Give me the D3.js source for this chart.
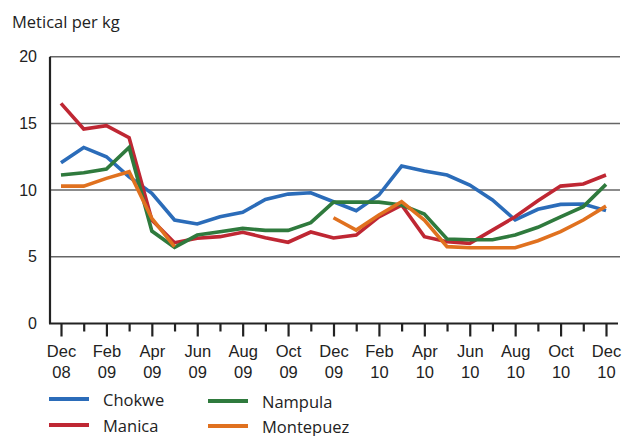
<!DOCTYPE html>
<meta charset="utf-8">
<head>
<style>
body { margin: 0; background: #fff; }
svg { font-family: "Open Sans", sans-serif; }
.grid line { stroke: #666; stroke-width: 1.5; }
.axis path, .axis line { stroke: #222; stroke-width: 2.2; fill: none; }
.axis text { fill: #222; font-size: 16px; }
.line { fill: none; stroke-width: 3.6; stroke-linejoin: miter; }
</style>
</head>
<body>
<div id="chart"></div>
<script src="https://d3js.org/d3.v7.min.js"></script>
<script>

// months Dec 08 .. Dec 10
var months = ["Dec 08","Jan 09","Feb 09","Mar 09","Apr 09","May 09","Jun 09","Jul 09","Aug 09","Sep 09","Oct 09","Nov 09",
              "Dec 09","Jan 10","Feb 10","Mar 10","Apr 10","May 10","Jun 10","Jul 10","Aug 10","Sep 10","Oct 10","Nov 10","Dec 10"];

var chokwe    = [12.05,13.2,12.5,11.0,9.76,7.76,7.46,8.0,8.33,9.3,9.7,9.8,9.13,8.46,9.63,11.8,11.43,11.13,10.38,9.26,7.76,8.56,8.93,8.96,8.46];
var manica    = [16.5,14.58,14.83,13.93,7.76,6.06,6.39,6.51,6.84,6.43,6.09,6.86,6.41,6.63,8.0,8.88,6.51,6.13,6.01,7.0,8.0,9.2,10.3,10.46,11.13];
var nampula   = [11.13,11.3,11.58,13.2,6.93,5.71,6.63,6.88,7.13,6.98,6.98,7.56,9.1,9.1,9.1,8.88,8.2,6.33,6.28,6.28,6.63,7.21,8.0,8.76,10.43];
var montepuez = [10.3,10.3,10.88,11.38,7.88,5.76,null,null,null,null,null,null,7.93,7.0,8.13,9.13,7.76,5.76,5.68,5.68,5.68,6.2,6.88,7.76,8.8];

var seriesNames  = ["Chokwe","Manica","Nampula","Montepuez"];
var seriesColors = ["#2b6cb9","#bf2733","#2f7a3d","#e0711f"];
var yTicks = [0,5,10,15,20];

var series = [chokwe, manica, nampula, montepuez];

var width = 622, height = 436;
var svg = d3.select("#chart").append("svg")
    .attr("width", width)
    .attr("height", height);

var x = d3.scaleLinear().domain([0, months.length - 1]).range([61, 606]);
var y = d3.scaleLinear().domain([0, 20]).range([323.5, 56.7]);

// title
svg.append("text")
  .attr("x", 12).attr("y", 28)
  .style("font-size", "16.5px").style("fill", "#222")
  .text("Metical per kg");

// grid
svg.append("g").attr("class", "grid")
  .selectAll("line")
  .data(yTicks.filter(function(d){ return d > 0; }))
  .enter().append("line")
    .attr("x1", 50).attr("x2", 620)
    .attr("y1", function(d){ return y(d); })
    .attr("y2", function(d){ return y(d); });

// y axis
var yAxis = svg.append("g")
  .attr("class", "axis")
  .attr("transform", "translate(50,0)")
  .call(d3.axisLeft(y).tickValues(yTicks).tickSize(0).tickPadding(13));
yAxis.select(".domain").attr("d", "M0," + y(20) + "V" + y(0));

// x axis
var xAxis = svg.append("g")
  .attr("class", "axis")
  .attr("transform", "translate(0," + y(0) + ")")
  .call(d3.axisBottom(x).tickValues(d3.range(months.length)).tickSize(0).tickFormat(""));
xAxis.select(".domain").attr("d", "M49," + 0 + "H618");
xAxis.selectAll(".tick line")
  .attr("y2", function(d){ return d % 2 == 0 ? 13 : 8; });

var lab = xAxis.selectAll(".tick").filter(function(d){ return d % 2 == 0; })
  .append("text")
  .attr("fill", "#222")
  .style("font-size", "16.5px")
  .attr("text-anchor", "middle");
lab.append("tspan").attr("x", 0).attr("y", 33)
  .text(function(d){ return months[d].split(" ")[0]; });
lab.append("tspan").attr("x", 0).attr("y", 54)
  .text(function(d){ return months[d].split(" ")[1]; });

// lines
var line = d3.line()
  .defined(function(d){ return d != null; })
  .x(function(d, i){ return x(i); })
  .y(function(d){ return y(d); });

svg.selectAll(".line")
  .data(series)
  .enter().append("path")
    .attr("class", "line")
    .attr("stroke", function(d, i){ return seriesColors[i]; })
    .attr("d", line);

// legend
var legPos = [[49,399],[49,425],[208,401],[208,426]];
var leg = svg.selectAll(".leg")
  .data(seriesNames)
  .enter().append("g")
    .attr("class", "leg")
    .attr("transform", function(d, i){ return "translate(" + legPos[i][0] + "," + legPos[i][1] + ")"; });
leg.append("line")
  .attr("x1", 0).attr("x2", 40)
  .attr("stroke", function(d, i){ return seriesColors[i]; })
  .attr("stroke-width", 4);
leg.append("text")
  .attr("x", 54).attr("y", 6.5)
  .style("font-size", "16.5px").style("fill", "#222")
  .text(function(d){ return d; });

</script>
</body>
</html>
